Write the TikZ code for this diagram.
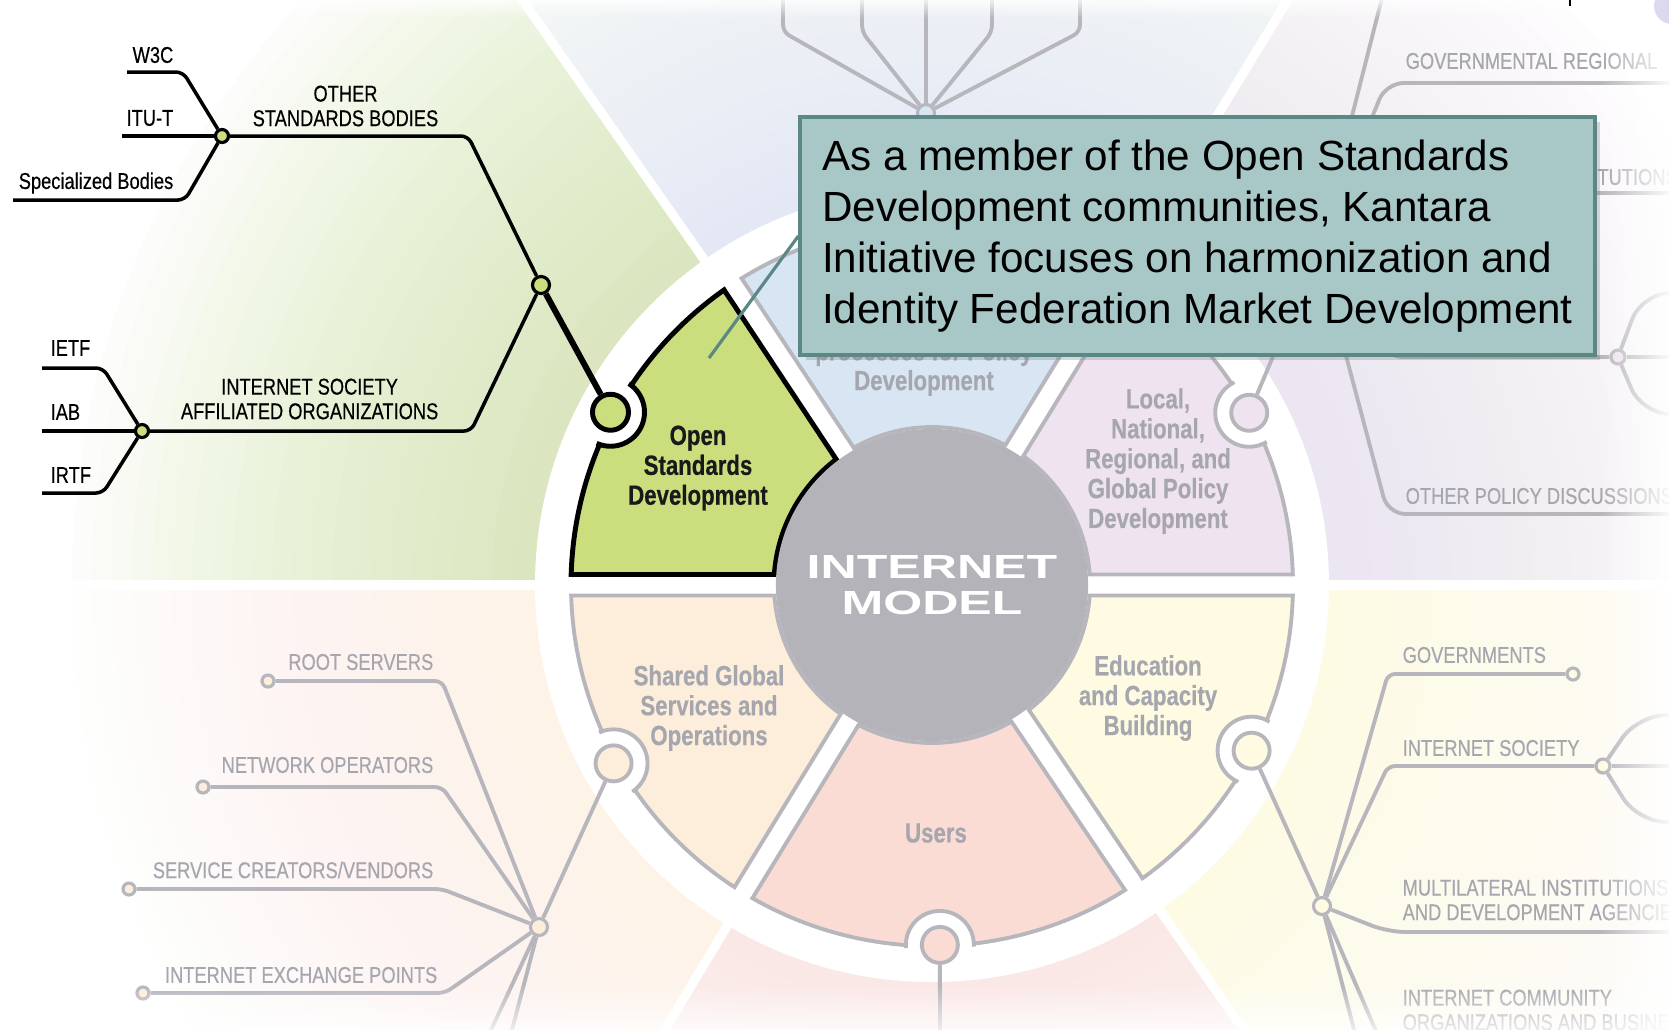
\documentclass[tikz,border=0pt]{standalone}
\usepackage{fontspec}
\setmainfont{Liberation Sans}
\newfontfamily\narrowfont[FakeStretch=0.8, FakeBold=0.4]{Liberation Sans}
\newfontfamily\widefont[FakeStretch=1.5]{Liberation Sans}
\usetikzlibrary{shadows}
\usetikzlibrary{fadings}

\definecolor{bggreen}{RGB}{208,228,168}
\definecolor{bgblue}{RGB}{224,232,245}
\definecolor{bgpurple}{RGB}{236,226,242}
\definecolor{bgyellow}{RGB}{253,251,224}
\definecolor{bgpink}{RGB}{250,232,228}
\definecolor{bgorange}{RGB}{253,243,231}
\definecolor{segGreen}{RGB}{202,222,126}
\definecolor{segBlue}{RGB}{216,229,243}
\definecolor{segPurple}{RGB}{238,227,239}
\definecolor{segYellow}{RGB}{254,251,226}
\definecolor{segPink}{RGB}{250,220,213}
\definecolor{segOrange}{RGB}{253,237,219}
\definecolor{lineGray}{RGB}{182,182,188}
\definecolor{hubGray}{RGB}{179,179,185}
\definecolor{textGray}{RGB}{166,166,174}
\definecolor{boxFill}{RGB}{168,200,199}
\definecolor{boxEdge}{RGB}{91,135,132}
\definecolor{logoLav}{RGB}{220,216,240}

\tikzfading[name=faderight, left color=transparent!100, right color=transparent!0]
\tikzfading[name=fadedown, top color=transparent!100, bottom color=transparent!0]
\tikzfading[name=fadeup, top color=transparent!0, bottom color=transparent!100]

\tikzset{
	lbl/.style={font=\narrowfont\fontsize{6.5}{7}\selectfont, inner sep=0pt},
	graylbl/.style={lbl, text=textGray},
	seglbl/.style={font=\narrowfont\fontsize{7.9}{8.5}\selectfont\bfseries, align=center, inner sep=0pt, text=textGray},
	branch/.style={line width=1pt, rounded corners=2pt},
	twig/.style={draw=lineGray, line width=1.1pt, rounded corners=2pt},
	dot/.style={circle, draw, line width=0.9pt, fill=segGreen, minimum size=0.13cm, inner sep=0pt},
	hubdot/.style={dot, minimum size=0.17cm},
	enddot/.style={dot, draw=lineGray, minimum size=0.12cm},
	notch/.style={circle, draw=lineGray, line width=1.1pt, minimum size=0.36cm, inner sep=0pt},
	callout/.style={draw=boxEdge, fill=boxFill, line width=1.1pt, minimum width=7.94cm, minimum height=2.375cm, align=left, inner sep=0pt, font=\fontsize{12}{14.45}\selectfont, drop shadow={opacity=0.3, shadow xshift=1.5pt, shadow yshift=-1.5pt}}
}

\begin{document}
\begin{tikzpicture}[x=0.01cm, y=-0.01cm]
		\useasboundingbox (0,0) rectangle (1669,1029);
		\clip (0,0) rectangle (1669,1029);
		\fill[white] (0,0) rectangle (1669,1029);
		\def\segpath#1#2{(#1+3.81:158) -- (#1+1.67:361) arc[start angle=#1+1.67, end angle=#2-1.67, radius=361] -- (#2-3.81:158) arc[start angle=#2-3.81, end angle=#1+3.81, radius=158] -- cycle}
		
		\begin{scope}[shift={(932,585)}]
			% Tint the sectors behind the wheel
			\foreach \a/\b/\c in {-180/-125/bggreen, -125/-58.7/bgblue, -58.7/0/bgpurple, 0/55/bgyellow, 55/121/bgpink, 121/180/bgorange}{
				\begin{scope}
					\clip (0,0) -- (\a:3000) -- (\b:3000) -- cycle;
					\foreach \r in {420,440,...,860}
						\fill[\c, opacity=0.045] (0,0) circle (\r);
				\end{scope}
			}
			\foreach \a in {-180,-125,-58.7,0,55,121}
				\draw[white, line width=2.6pt] (0,0) -- (\a:3000);
			\fill[white] (0,0) circle (397);
			
			% Draw the segments
			\foreach \a/\b/\c in {-123.5/-58.5/segBlue, -58.5/0/segPurple, 0/56/segYellow, 56/121.5/segPink, 121.5/180/segOrange}
				\draw[fill=\c, draw=lineGray, line width=1.1pt] \segpath{\a}{\b};
			\draw[fill=segGreen, draw=black, line width=1.4pt] \segpath{-180}{-123.5};
			
			% Cut the notches
			\begin{scope}
				\clip (0,0) circle (364);
				\foreach \t/\r in {-91/362, -28.5/361, 27.4/360, 88.75/360, 150.75/365}
					\draw[fill=white, draw=lineGray, line width=1.1pt] (\t:\r) circle (34);
				\draw[fill=white, draw=black, line width=1.4pt] (-151.75:365) circle (34);
			\end{scope}
			\node[notch, fill=segGreen, draw=black, line width=1.4pt] (nGreen) at (-151.75:365) {};
			\node[notch, fill=segBlue] (nBlue) at (-91:362) {};
			\node[notch, fill=segPurple] (nPurple) at (-28.5:361) {};
			\node[notch, fill=segYellow] (nYellow) at (27.4:360) {};
			\node[notch, fill=segPink] (nPink) at (88.75:360) {};
			\node[notch, fill=segOrange] (nOrange) at (150.75:365) {};
			
			% The hub
			\node[circle, fill=hubGray, minimum size=3.12cm, inner sep=0pt, align=center, text=white, font=\widefont\fontsize{9.5}{10.2}\selectfont\bfseries] (hub) at (0,0) {INTERNET\\MODEL};
		\end{scope}
		
		% Label the segments
		\node[seglbl, text=black!90] (osdLbl) at (698,468) {Open\\Standards\\Development};
		\node[seglbl] (ppdLbl) at (924,368) {processes for Policy\\Development};
		\node[seglbl] (lnrLbl) at (1158,461) {Local,\\National,\\Regional, and\\Global Policy\\Development};
		\node[seglbl] (ecbLbl) at (1148,698) {Education\\and Capacity\\Building};
		\node[seglbl] (usrLbl) at (936,833) {Users};
		\node[seglbl] (sgsLbl) at (709,708) {Shared Global\\Services and\\Operations};
		
		% Standards bodies tree
		\node[dot] (osbDot) at (222,136) {};
		\node[hubdot] (stdHub) at (541,285) {};
		\node[dot] (isocDot) at (142,431) {};
		\coordinate (w3cEnd) at (127,72);
		\coordinate (ituEnd) at (122,136);
		\coordinate (sbEnd) at (13,200);
		\coordinate (ietfEnd) at (42,368);
		\coordinate (iabEnd) at (42,431);
		\coordinate (irtfEnd) at (42,493);
		\draw[branch] (w3cEnd) -- (183,72) -- (osbDot);
		\draw[branch] (ituEnd) -- (osbDot);
		\draw[branch] (sbEnd) -- (185,200) -- (osbDot);
		\draw[branch] (osbDot) -- (468,136) -- (stdHub);
		\draw[branch] (ietfEnd) -- (103,368) -- (isocDot);
		\draw[branch] (iabEnd) -- (isocDot);
		\draw[branch] (irtfEnd) -- (103,493) -- (isocDot);
		\draw[branch] (isocDot) -- (471,431) -- (stdHub);
		\draw[line width=1.7pt] (stdHub) -- (nGreen);
		\node[lbl, anchor=east] (w3c) at (174,55) {W3C};
		\node[lbl, anchor=east] (itu) at (174,118) {ITU-T};
		\node[lbl, anchor=east] (sb) at (174,183) {Specialized Bodies};
		\node[lbl, anchor=east, align=center] (osb) at (439,106) {OTHER\\STANDARDS BODIES};
		\node[lbl, anchor=west] (ietf) at (50,348) {IETF};
		\node[lbl, anchor=west] (iab) at (50,412) {IAB};
		\node[lbl, anchor=west] (irtf) at (50,475) {IRTF};
		\node[lbl, anchor=east, align=center] (isoc) at (439,399) {INTERNET SOCIETY\\AFFILIATED ORGANIZATIONS};
		
		% Shared services tree
		\node[hubdot, fill=segOrange, draw=lineGray] (sgHub) at (539,927) {};
		\foreach \n/\x/\y/\bx in {rootEnd/268/681/442, netEnd/203/787/442, svcEnd/129/889/442, ixpEnd/143/993/445}{
			\node[enddot, fill=segOrange] (\n) at (\x,\y) {};
			\draw[twig] (\n) -- (\bx,\y) -- (sgHub);
		}
		\coordinate (sgDownA) at (484,1045);
		\coordinate (sgDownB) at (508,1045);
		\draw[twig] (sgHub) -- (sgDownA);
		\draw[twig] (sgHub) -- (sgDownB);
		\draw[twig] (sgHub) -- (nOrange);
		\node[graylbl, anchor=east] (root) at (434,662) {ROOT SERVERS};
		\node[graylbl, anchor=east] (net) at (434,765) {NETWORK OPERATORS};
		\node[graylbl, anchor=east] (svc) at (434,870) {SERVICE CREATORS/VENDORS};
		\node[graylbl, anchor=east] (ixp) at (438,975) {INTERNET EXCHANGE POINTS};
		
		% Education tree
		\node[hubdot, fill=segYellow, draw=lineGray] (ecHub) at (1322,906) {};
		\node[enddot, fill=segYellow] (govEnd) at (1573,674) {};
		\node[dot, fill=segYellow, draw=lineGray, minimum size=0.14cm] (isocHub) at (1603,766) {};
		\coordinate (mliEnd) at (1690,932);
		\coordinate (isocA) at (1690,715);
		\coordinate (isocB) at (1690,766);
		\coordinate (isocC) at (1690,822);
		\coordinate (ecDownA) at (1358,1045);
		\coordinate (ecDownB) at (1382,1045);
		\draw[twig] (nYellow) -- (ecHub);
		\draw[twig] (ecHub) -- (1388,674) -- (govEnd);
		\draw[twig] (ecHub) -- (1388,766) -- (isocHub);
		\draw[twig, rounded corners=5pt] (ecHub) -- (1388,932) -- (mliEnd);
		\draw[twig, rounded corners=8pt] (isocHub) -- (1638,715) -- (isocA);
		\draw[twig] (isocHub) -- (isocB);
		\draw[twig, rounded corners=8pt] (isocHub) -- (1638,822) -- (isocC);
		\draw[twig] (ecHub) -- (ecDownA);
		\draw[twig] (ecHub) -- (ecDownB);
		\node[graylbl, anchor=west] (gov) at (1402,655) {GOVERNMENTS};
		\node[graylbl, anchor=west] (isocR) at (1402,748) {INTERNET SOCIETY};
		\node[graylbl, anchor=west, align=left] (mli) at (1402,900) {MULTILATERAL INSTITUTIONS\\AND DEVELOPMENT AGENCIES};
		\node[graylbl, anchor=west, align=left] (icom) at (1402,1010) {INTERNET COMMUNITY\\ORGANIZATIONS AND BUSINESS};
		
		% Policy development trees
		\node[hubdot, fill=segBlue, draw=lineGray] (pdHub) at (926,113) {};
		\draw[twig] (nBlue) -- (pdHub);
		\foreach \x [count=\i] in {783, 862, 926, 992, 1080}{
			\coordinate (pdTop\i) at (\x,-10);
			\draw[twig] (pdHub) -- (\x,32) -- (pdTop\i);
		}
		\node[hubdot, fill=segPurple, draw=lineGray] (lpHub) at (1318,250) {};
		\node[dot, fill=segPurple, draw=lineGray, minimum size=0.14cm] (opHub) at (1618,357) {};
		\coordinate (lpTop) at (1384,-10);
		\coordinate (grEnd) at (1690,83);
		\coordinate (instEnd) at (1690,193);
		\coordinate (opdEnd) at (1690,514);
		\coordinate (opA) at (1690,293);
		\coordinate (opB) at (1690,357);
		\coordinate (opC) at (1690,414);
		\draw[twig] (nPurple) -- (lpHub);
		\draw[twig] (lpHub) -- (lpTop);
		\draw[twig, rounded corners=5pt] (lpHub) -- (1386,83) -- (grEnd);
		\draw[twig, rounded corners=5pt] (lpHub) -- (1386,193) -- (instEnd);
		\draw[twig, rounded corners=5pt] (lpHub) -- (1386,357) -- (opHub);
		\draw[twig, rounded corners=5pt] (lpHub) -- (1388,514) -- (opdEnd);
		\draw[twig, rounded corners=8pt] (opHub) -- (1642,293) -- (opA);
		\draw[twig] (opHub) -- (opB);
		\draw[twig, rounded corners=8pt] (opHub) -- (1642,414) -- (opC);
		\node[graylbl, anchor=west] (govReg) at (1405,61) {GOVERNMENTAL REGIONAL};
		\node[graylbl, anchor=west] (inst) at (1550,177) {INSTITUTIONS};
		\node[graylbl, anchor=west] (opd) at (1405,496) {OTHER POLICY DISCUSSIONS};
		
		% Users branch
		\coordinate (usDown) at (940,1045);
		\draw[twig] (nPink) -- (usDown);
		
		% The call-out
		\node[callout] (note) at (1197.5,236) {As a member of the Open Standards\\Development communities, Kantara\\Initiative focuses on harmonization and\\Identity Federation Market Development};
		\coordinate (notePtr) at (709,358);
		\draw[boxEdge, line width=0.9pt] (note.west) -- (notePtr);
		
		% Fade the edges
		\fill[white, path fading=faderight] (1600,-5) rectangle (1675,1035);
		\fill[white, fill opacity=0.85, path fading=fadedown] (-5,985) rectangle (1675,1035);
		\fill[white, path fading=fadeup] (-5,-5) rectangle (1675,18);
		
		% Corner bits
		\draw[black, line width=0.4pt] (1570,-2) -- (1570,6);
		\fill[logoLav] (1672,6) circle (18);
		\fill[white] (1668,-10) circle (9);
	\end{tikzpicture}
\end{document}
